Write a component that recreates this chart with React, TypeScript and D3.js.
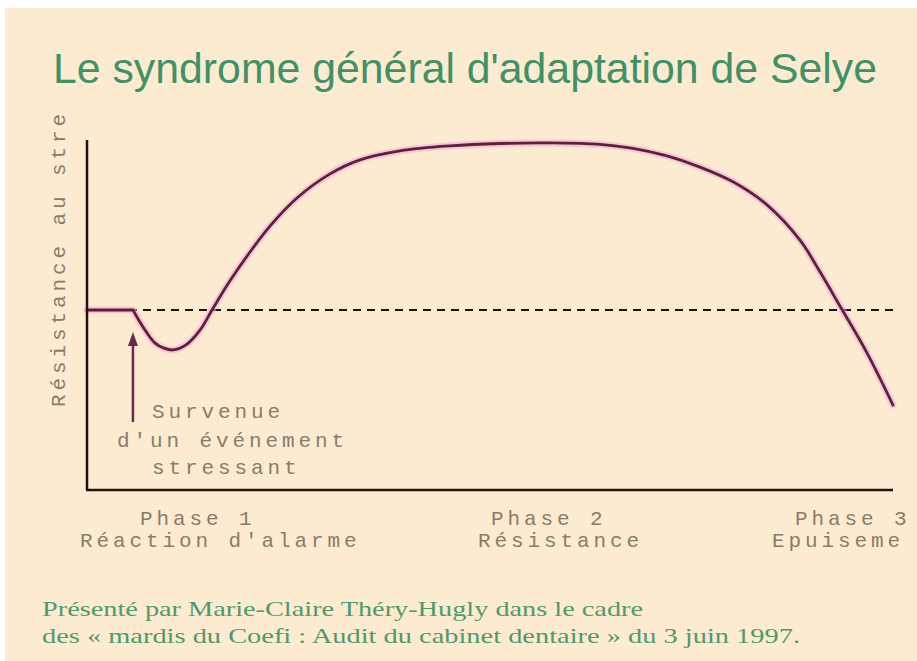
import React from "react";
import * as d3 from "d3";

// Curve: time (0-100) vs resistance to stress (0-100), baseline = 50
const timeValues = [0, 5.7, 6.95, 8.44, 9.55, 10.67, 12.28, 14.02, 15.51, 17.74, 20.22, 22.7, 26.05, 30.15, 33.87, 38.83, 45.04, 51.24, 57.44, 63.65, 67.74, 71.96, 76.05, 80.15, 84.37, 88.46, 90.94, 93.42, 96.77, 100];
const resistanceValues = [50, 50, 45.3, 40.8, 39.4, 38.9, 40.3, 44.4, 50, 58.1, 66.1, 73.3, 81.1, 87.8, 91.7, 94.2, 95.6, 96.25, 96.4, 96.0, 94.9, 92.8, 89.7, 85.6, 79.2, 69.4, 60.6, 51.1, 38.1, 23.6];
const normalLevel = 50;
const stressEventTime = 5.7;

const title = "Le syndrome général d'adaptation de Selye";
const yLabel = "Résistance au stre";
const phaseTitles = ["Phase 1", "Phase 2", "Phase 3"];
const phaseNames = ["Réaction d'alarme", "Résistance", "Epuiseme"];
const eventLines = ["Survenue", "d'un événement", "stressant"];
const credits = [
  "Présenté par Marie-Claire Théry-Hugly dans le cadre",
  "des « mardis du Coefi : Audit du cabinet dentaire » du 3 juin 1997.",
];

export default function App() {
  const W = 917, H = 661;
  const x = d3.scaleLinear().domain([0, 100]).range([87, 893]);
  const y = d3.scaleLinear().domain([0, 100]).range([490, 130]);
  const pts = timeValues.map((t, i) => [t, resistanceValues[i]] as [number, number]);
  const line = d3
    .line<[number, number]>()
    .x((d) => x(d[0]))
    .y((d) => y(d[1]))
    .curve(d3.curveCatmullRom.alpha(0.5));
  // flat segment before the stress event, then the smooth response curve
  const flat = `M${x(pts[0][0])},${y(pts[0][1])}L`;
  const path = flat + (line(pts.slice(1)) || "").slice(1);

  const mono = "'Liberation Mono', 'DejaVu Sans Mono', monospace";
  const labelColor = "#8a7b6a";
  const phaseTitleX = [140, 491, 795];
  const phaseNameX = [80, 478, 772];
  const eventX = [152, 117, 152];
  const eventY = [418, 447, 474];
  const ax = x(stressEventTime);

  return (
    <svg
      width={W}
      height={H}
      style={{ position: "absolute", left: 0, top: 0 }}
      xmlns="http://www.w3.org/2000/svg"
    >
      <rect x={0} y={0} width={W} height={H} fill="#ffffff" />
      <rect x={5} y={8} width={W - 5} height={H - 8} fill="#fcebd1" />

      <text
        x={53}
        y={83}
        fontFamily="'Liberation Sans', Arial, sans-serif"
        fontSize={42.5}
        fill="#3f9266"
        textLength={824}
        lengthAdjust="spacingAndGlyphs"
      >
        {title}
      </text>

      {/* Y label */}
      <text
        transform="translate(65,407) rotate(-90)"
        fontFamily={mono}
        fontSize={21}
        letterSpacing={3.9}
        fill={labelColor}
      >
        {yLabel}
      </text>

      {/* dashed normal level */}
      <line
        x1={x(0)}
        x2={897}
        y1={y(normalLevel)}
        y2={y(normalLevel)}
        stroke="#1a1010"
        strokeWidth={2}
        strokeDasharray="8 6"
      />

      {/* curve with pink halo */}
      <path d={path} fill="none" stroke="#f3a9d2" strokeWidth={7} strokeOpacity={0.55} strokeLinecap="round" />
      <path d={path} fill="none" stroke="#5e1f42" strokeWidth={2.8} strokeLinecap="round" />

      {/* axes */}
      <line x1={x(0)} x2={x(0)} y1={140} y2={y(0)} stroke="#1f140e" strokeWidth={2.5} />
      <line x1={x(0) - 1} x2={x(100)} y1={y(0)} y2={y(0)} stroke="#1f140e" strokeWidth={2.5} />

      {/* arrow for stress event */}
      <line x1={ax} x2={ax} y1={422} y2={y(normalLevel) + 30} stroke="#6a2a4c" strokeWidth={2.5} />
      <path
        d={`M${ax},${y(normalLevel) + 22} L${ax - 5},${y(normalLevel) + 36} L${ax + 5},${y(normalLevel) + 36} Z`}
        fill="#6a2a4c"
      />

      {eventLines.map((t, i) => (
        <text key={t} x={eventX[i]} y={eventY[i]} fontFamily={mono} fontSize={21} letterSpacing={3.9} fill={labelColor}>
          {t}
        </text>
      ))}

      {phaseTitles.map((t, i) => (
        <text key={t} x={phaseTitleX[i]} y={525} fontFamily={mono} fontSize={21} letterSpacing={3.9} fill={labelColor}>
          {t}
        </text>
      ))}
      {phaseNames.map((t, i) => (
        <text key={t} x={phaseNameX[i]} y={547} fontFamily={mono} fontSize={21} letterSpacing={3.9} fill={labelColor}>
          {t}
        </text>
      ))}

      <text
        x={42}
        y={616}
        fontFamily="'Liberation Serif', 'Times New Roman', serif"
        fontSize={22}
        fill="#4f9a6b"
        textLength={601}
        lengthAdjust="spacingAndGlyphs"
      >
        {credits[0]}
      </text>
      <text
        x={42}
        y={643}
        fontFamily="'Liberation Serif', 'Times New Roman', serif"
        fontSize={22}
        fill="#4f9a6b"
        textLength={758}
        lengthAdjust="spacingAndGlyphs"
      >
        {credits[1]}
      </text>
    </svg>
  );
}
